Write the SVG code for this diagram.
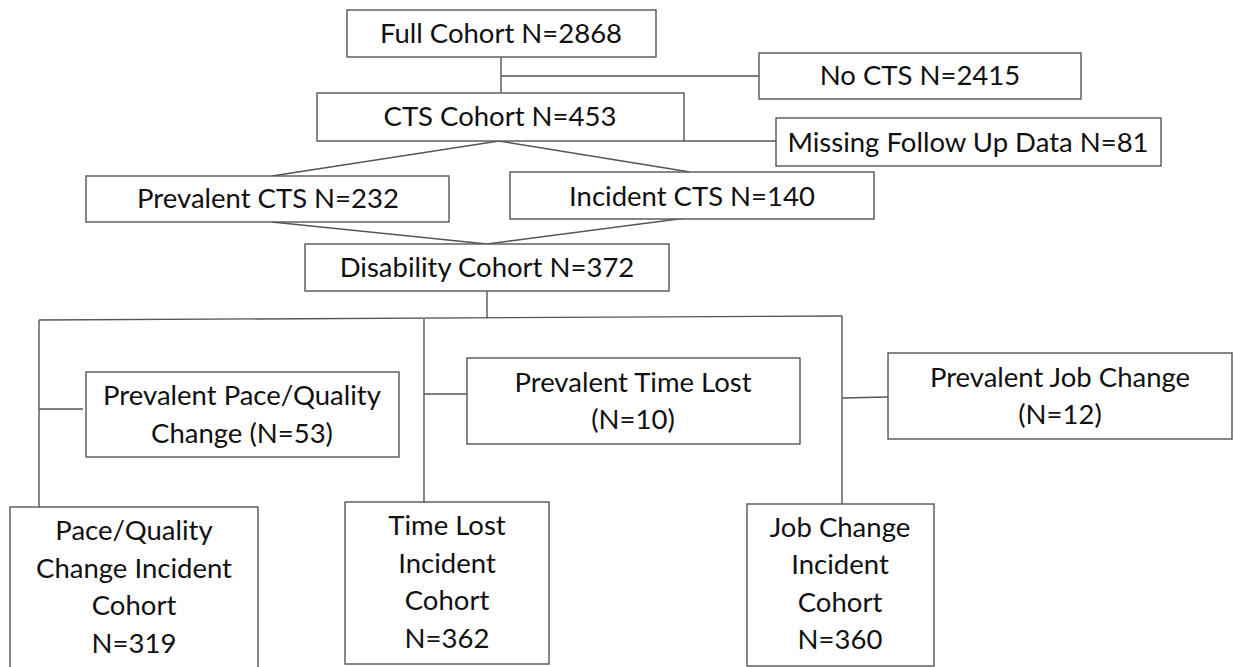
<svg xmlns="http://www.w3.org/2000/svg" width="1235" height="667" viewBox="0 0 1235 667">
<style>
.box{fill:#fff;stroke:#555;stroke-width:1.4}
.ln{fill:none;stroke:#555;stroke-width:1.4}
text{font-family:Lato,"Open Sans",sans-serif;font-size:27.5px;fill:#111;text-anchor:middle}
</style>
<rect width="1235" height="667" fill="#fff"/>
<g id="connectors">
<line class="ln" x1="501" y1="57" x2="501" y2="93"/>
<line class="ln" x1="501" y1="76" x2="759" y2="76"/>
<line class="ln" x1="684" y1="141" x2="776" y2="141"/>
<polyline class="ln" points="272,176 499,141 690,172"/>
<polyline class="ln" points="272,222 487,244 686,218"/>
<line class="ln" x1="487" y1="291" x2="487" y2="318"/>
<polyline class="ln" points="39,320 842,316"/>
<line class="ln" x1="39" y1="320" x2="39" y2="507"/>
<line class="ln" x1="39" y1="409" x2="83" y2="409"/>
<line class="ln" x1="424" y1="319" x2="424" y2="502"/>
<line class="ln" x1="424" y1="394" x2="467" y2="394"/>
<line class="ln" x1="842" y1="316" x2="842" y2="504"/>
<line class="ln" x1="842" y1="398" x2="888" y2="397"/>
</g>
<g id="full"><rect class="box" x="347" y="10" width="309" height="47"/><text x="501" y="43">Full Cohort N=2868</text></g>
<g id="nocts"><rect class="box" x="759" y="53" width="322" height="46"/><text x="920" y="85">No CTS N=2415</text></g>
<g id="cts"><rect class="box" x="317" y="93" width="367" height="48"/><text x="500" y="126">CTS Cohort N=453</text></g>
<g id="missing"><rect class="box" x="776" y="118" width="385" height="48"/><text x="968" y="152">Missing Follow Up Data N=81</text></g>
<g id="prevcts"><rect class="box" x="86" y="176" width="363" height="46"/><text x="268" y="208">Prevalent CTS N=232</text></g>
<g id="inccts"><rect class="box" x="510" y="172" width="364" height="47"/><text x="692" y="206">Incident CTS N=140</text></g>
<g id="disab"><rect class="box" x="305" y="244" width="364" height="47"/><text x="487" y="277">Disability Cohort N=372</text></g>
<g id="prevpace"><rect class="box" x="86" y="372" width="313" height="85"/><text x="242" y="405">Prevalent Pace/Quality</text><text x="242" y="443">Change (N=53)</text></g>
<g id="prevtime"><rect class="box" x="467" y="358" width="333" height="86"/><text x="633" y="392">Prevalent Time Lost</text><text x="633" y="429">(N=10)</text></g>
<g id="prevjob"><rect class="box" x="888" y="353" width="344" height="86"/><text x="1060" y="387">Prevalent Job Change</text><text x="1060" y="424">(N=12)</text></g>
<g id="incpace"><rect class="box" x="10" y="507" width="248" height="170"/><text x="134" y="540">Pace/Quality</text><text x="134" y="578">Change Incident</text><text x="134" y="615">Cohort</text><text x="134" y="653">N=319</text></g>
<g id="inctime"><rect class="box" x="345" y="502" width="204" height="162"/><text x="447" y="535">Time Lost</text><text x="447" y="573">Incident</text><text x="447" y="610">Cohort</text><text x="447" y="648">N=362</text></g>
<g id="incjob"><rect class="box" x="747" y="504" width="187" height="162"/><text x="840" y="537">Job Change</text><text x="840" y="574">Incident</text><text x="840" y="612">Cohort</text><text x="840" y="649">N=360</text></g>
</svg>
